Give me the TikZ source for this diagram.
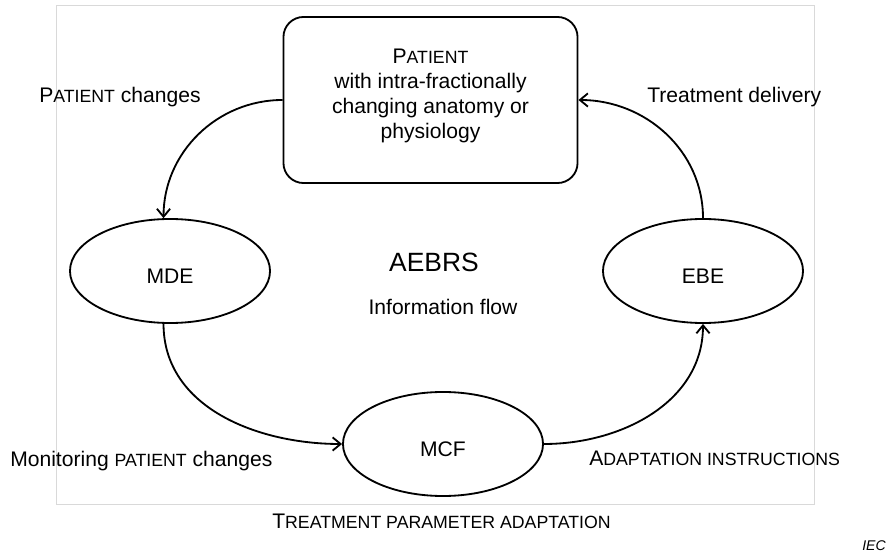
\documentclass[tikz,border=0pt]{standalone}
\usepackage{fontspec}
\setmainfont{Liberation Sans}
\usetikzlibrary{shapes.geometric, arrows.meta}

% fake small capitals
\newcommand{\lowcaps}[1]{{\fontsize{12.6pt}{14pt}\selectfont #1}}

\tikzset{
    every node/.style={font=\fontsize{15pt}{17.7pt}\selectfont},
    patientbox/.style={draw, line width=1.3pt, rounded corners=0.5cm, minimum width=7.35cm, minimum height=4.15cm, align=center, inner sep=0pt, text depth=8.9pt},
    unitell/.style={draw, ellipse, line width=1.3pt, minimum width=5cm, minimum height=2.6cm, inner sep=0pt, text height=17.5pt, text depth=0pt},
    flow/.style={line width=1.3pt, -{Straight Barb[length=2mm, width=3.3mm]}},
    lbl/.style={inner sep=0pt}
}

\begin{document}
\begin{tikzpicture}[x=0.025cm, y=-0.025cm]
    \useasboundingbox (0,0) rectangle (889,557);

    % light frame
    \draw[black!15, line width=0.5pt] (56,5) rectangle (814,504);

    % Patient box
    \node[patientbox] (patient) at (430.5,100) {P\lowcaps{ATIENT}\\ with intra-fractionally\\ changing anatomy or\\ physiology};

    % Units
    \node[unitell] (mde) at (170,271) {MDE};
    \node[unitell] (ebe) at (703,271) {EBE};
    \node[unitell] (mcf) at (443,444) {MCF};

    % Centre texts
    \node[lbl, anchor=base, font=\fontsize{18.8pt}{22pt}\selectfont] (aebrs) at (434,272) {AEBRS};
    \node[lbl, anchor=base] (infoflow) at (443,315) {Information flow};

    % Flow of information
    \draw[flow] (patient.west) to[out=180, in=90] (mde.97);
    \draw[flow] (mde.-97) to[out=-90, in=180] (mcf.west);
    \draw[flow] (mcf.east) to[out=0, in=-90] (ebe.south);
    \draw[flow] (ebe.north) to[out=90, in=0] (patient.east);

    % Labels
    \node[lbl, anchor=base west] (lblchanges) at (39,103) {P\lowcaps{ATIENT} changes};
    \node[lbl, anchor=base west] (lbldelivery) at (647,103) {Treatment delivery};
    \node[lbl, anchor=base west] (lblmonitor) at (10,466) {Monitoring \lowcaps{PATIENT} changes};
    \node[lbl, anchor=base west] (lblinstr) at (589,465) {A\lowcaps{DAPTATION INSTRUCTIONS}};
    \node[lbl, anchor=base] (lbladapt) at (441.5,528) {T\lowcaps{REATMENT PARAMETER ADAPTATION}};
    \node[lbl, anchor=base west, font=\fontsize{10pt}{12pt}\itshape] (lbliec) at (862,550) {IEC};
\end{tikzpicture}
\end{document}
